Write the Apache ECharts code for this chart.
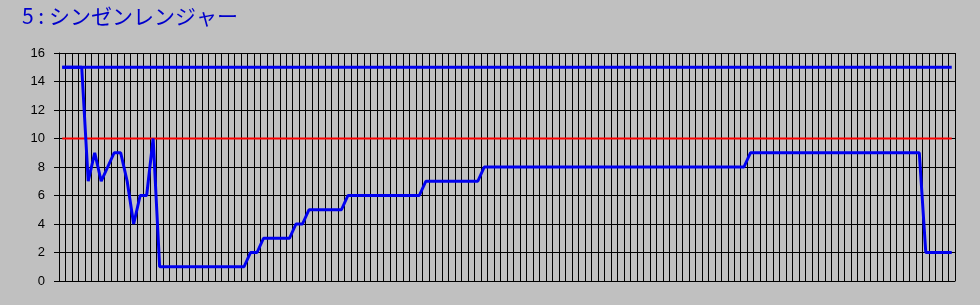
<!DOCTYPE html>
<html>
<head>
<meta charset="utf-8">
<script src="https://cdn.jsdelivr.net/npm/echarts@6/dist/echarts.min.js"></script>
<style>
html,body{margin:0;padding:0;background:#C0C0C0;}
#c{width:980px;height:305px;}
</style>
</head>
<body>
<div id="c"></div>
<script>
var titleText = '5 : シンゼンレンジャー';
var yTicks = [0, 2, 4, 6, 8, 10, 12, 14, 16];
var categories = [
1,2,3,4,5,6,7,8,9,10,11,12,13,14,15,16,17,18,19,20,
21,22,23,24,25,26,27,28,29,30,31,32,33,34,35,36,37,38,39,40,
41,42,43,44,45,46,47,48,49,50,51,52,53,54,55,56,57,58,59,60,
61,62,63,64,65,66,67,68,69,70,71,72,73,74,75,76,77,78,79,80,
81,82,83,84,85,86,87,88,89,90,91,92,93,94,95,96,97,98,99,100,
101,102,103,104,105,106,107,108,109,110,111,112,113,114,115,116,117,118,119,120,
121,122,123,124,125,126,127,128,129,130,131,132,133,134,135,136,137,138
];
var rankValues = [
15,15,15,15,7,9,7,8,9,9,7,4,6,6,10,
1,1,1,1,1,1,1,1,1,1,1,1,1,1,
2,2,
3,3,3,3,3,
4,4,
5,5,5,5,5,5,
6,6,6,6,6,6,6,6,6,6,6,6,
7,7,7,7,7,7,7,7,7,
8,8,8,8,8,8,8,8,8,8,8,8,8,8,8,8,8,8,8,8,8,8,8,8,8,8,8,8,8,8,8,8,8,8,8,8,8,8,8,8,8,
9,9,9,9,9,9,9,9,9,9,9,9,9,9,9,9,9,9,9,9,9,9,9,9,9,9,9,
2,2,2,2,2
];
var maxValues = [
15,15,15,15,15,15,15,15,15,15,15,15,15,15,15,15,15,15,15,15,
15,15,15,15,15,15,15,15,15,15,15,15,15,15,15,15,15,15,15,15,
15,15,15,15,15,15,15,15,15,15,15,15,15,15,15,15,15,15,15,15,
15,15,15,15,15,15,15,15,15,15,15,15,15,15,15,15,15,15,15,15,
15,15,15,15,15,15,15,15,15,15,15,15,15,15,15,15,15,15,15,15,
15,15,15,15,15,15,15,15,15,15,15,15,15,15,15,15,15,15,15,15,
15,15,15,15,15,15,15,15,15,15,15,15,15,15,15,15,15,15
];
var lineValues = [
10,10,10,10,10,10,10,10,10,10,10,10,10,10,10,10,10,10,10,10,
10,10,10,10,10,10,10,10,10,10,10,10,10,10,10,10,10,10,10,10,
10,10,10,10,10,10,10,10,10,10,10,10,10,10,10,10,10,10,10,10,
10,10,10,10,10,10,10,10,10,10,10,10,10,10,10,10,10,10,10,10,
10,10,10,10,10,10,10,10,10,10,10,10,10,10,10,10,10,10,10,10,
10,10,10,10,10,10,10,10,10,10,10,10,10,10,10,10,10,10,10,10,
10,10,10,10,10,10,10,10,10,10,10,10,10,10,10,10,10,10
];

var chart = echarts.init(document.getElementById('c'), null, {renderer: 'canvas'});
chart.setOption({
  animation: false,
  backgroundColor: '#C0C0C0',
  title: {
    text: titleText,
    left: 17, top: 1,
    textStyle: {color: '#0000CC', fontSize: 21, fontWeight: 'normal', fontFamily: '"Noto Sans CJK JP", sans-serif'}
  },
  grid: {left: 59, right: 25, top: 53, bottom: 24, containLabel: false},
  xAxis: {
    type: 'category',
    data: categories,
    boundaryGap: true,
    axisLine: {show: true, lineStyle: {color: '#000', width: 1}},
    axisTick: {show: false},
    axisLabel: {show: false},
    splitLine: {show: true, interval: 0, lineStyle: {color: '#000', width: 1}}
  },
  yAxis: {
    type: 'value',
    min: yTicks[0], max: yTicks[yTicks.length - 1], interval: 2,
    axisLine: {show: true, lineStyle: {color: '#000', width: 1}},
    axisTick: {show: true, length: 5, lineStyle: {color: '#000', width: 1}},
    axisLabel: {color: '#000', fontSize: 13, margin: 14, fontFamily: '"Liberation Sans", Arial, sans-serif'},
    splitLine: {show: true, lineStyle: {color: '#000', width: 1}}
  },
  series: [
    {type: 'line', data: lineValues, symbol: 'none', lineStyle: {color: '#FF0000', width: 2}, z: 2},
    {type: 'line', data: maxValues, symbol: 'none', lineStyle: {color: '#0000F0', width: 3}, z: 3},
    {type: 'line', data: rankValues, symbol: 'none', lineStyle: {color: '#0000F0', width: 3}, z: 4}
  ]
});
</script>
</body>
</html>
